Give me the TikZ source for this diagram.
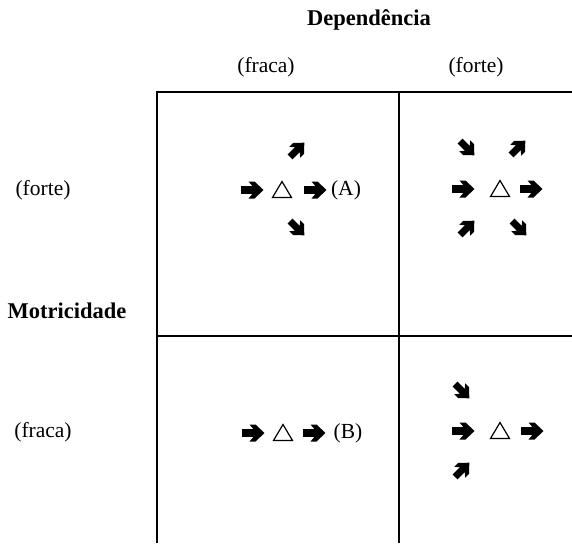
\documentclass[tikz,border=0pt]{standalone}
\usepackage{fontspec}
\setmainfont{Liberation Serif}
\tikzset{
  x=1pt,y=1pt,
  gridline/.style={line width=1.8pt,black},
  lbl/.style={font=\fontsize{21.5}{25}\selectfont,inner sep=0pt},
  head/.style={font=\fontsize{22.5}{26}\selectfont\bfseries,inner sep=0pt},
  tri/.style={line width=1.2pt,line join=miter},
  barrow/.pic={\fill (-11,-3.8) -- (0.5,-3.8) -- (-3.5,-8.5) -- (2.5,-8.5) -- (11.5,0) -- (2.5,8.5) -- (-3.5,8.5) -- (0.5,3.8) -- (-11,3.8) -- cycle;},
  dtri/.pic={\draw[tri] (-9.5,-7.5) -- (9.5,-7.5) -- (0,8.5) -- cycle;}
}
\begin{document}
\begin{tikzpicture}
\useasboundingbox (0,0) rectangle (572,-543);
% grid
\coordinate (tl) at (157,-92);
\coordinate (tr) at (572,-92);
\coordinate (bl) at (157,-543);
\coordinate (mt) at (399,-92);
\coordinate (mb) at (399,-543);
\coordinate (ml) at (157,-336);
\coordinate (mr) at (572,-336);
\draw[gridline] (tr) -- (tl) -- (bl);
\draw[gridline] (mt) -- (mb);
\draw[gridline] (ml) -- (mr);
% labels
\node[head] (dep) at (369,-20) {Dependência};
\node[lbl] (cfr) at (266,-67) {(fraca)};
\node[lbl] (cfo) at (476,-67) {(forte)};
\node[lbl] (rfo) at (43,-190) {(forte)};
\node[head] (mot) at (67,-311) {Motricidade};
\node[lbl] (rfr) at (43,-432) {(fraca)};
% cell top-left
\pic at (252,-190) {barrow};
\pic at (282,-190) {dtri};
\pic at (315,-190) {barrow};
\node[lbl] (A) at (346,-190) {(A)};
\pic[rotate=45,scale=0.9] at (297,-150) {barrow};
\pic[rotate=-45,scale=0.9] at (297,-228) {barrow};
% cell top-right
\pic[rotate=-45,scale=0.9] at (467,-148) {barrow};
\pic[rotate=45,scale=0.9] at (518,-148) {barrow};
\pic at (463,-189) {barrow};
\pic at (500,-189) {dtri};
\pic at (531,-189) {barrow};
\pic[rotate=45,scale=0.9] at (467,-228) {barrow};
\pic[rotate=-45,scale=0.9] at (519,-228) {barrow};
% cell bottom-left
\pic at (253,-433) {barrow};
\pic at (283,-433) {dtri};
\pic at (314,-433) {barrow};
\node[lbl] (B) at (348,-433) {(B)};
% cell bottom-right
\pic[rotate=-45,scale=0.9] at (462,-391) {barrow};
\pic at (463,-431) {barrow};
\pic at (500,-431) {dtri};
\pic at (532,-431) {barrow};
\pic[rotate=45,scale=0.9] at (462,-470) {barrow};
\end{tikzpicture}
\end{document}
